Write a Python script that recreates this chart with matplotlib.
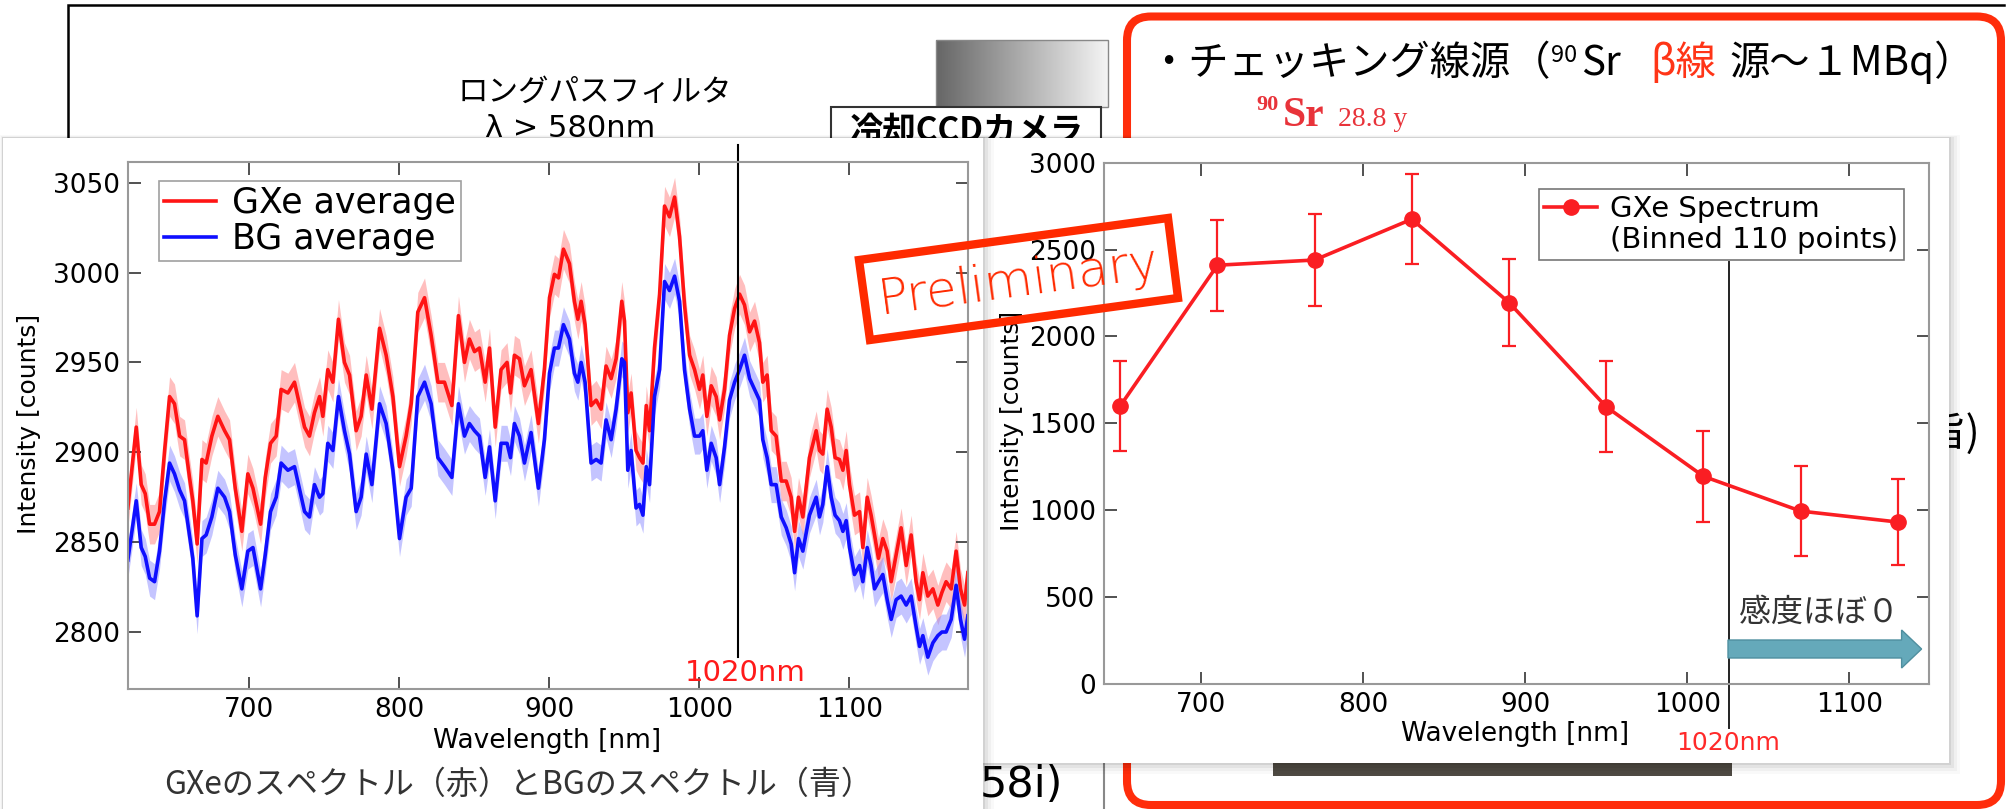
import matplotlib
matplotlib.use('Agg')
import matplotlib.pyplot as plt
import numpy as np
from matplotlib.patches import Rectangle, FancyBboxPatch, Polygon, FancyArrow
from matplotlib.lines import Line2D
from matplotlib.colors import LinearSegmentedColormap

# ---------------- data: left chart (averaged spectra) ----------------
wavelength = [
    618.9, 624.5, 627.8, 630.5, 633.4, 636.7, 640.0, 643.4, 646.7, 650.0, 653.4, 656.7, 660.0, 662.2, 665.1, 668.3,
    671.1, 674.9, 678.9, 683.4, 686.7, 690.5, 694.9, 698.9, 702.3, 707.4, 710.5, 714.0, 717.8, 721.1, 725.6, 730.0,
    736.7, 740.0, 743.3, 746.7, 748.9, 752.2, 755.6, 759.3, 763.3, 766.7, 771.1, 774.4, 777.8, 781.6, 786.7, 791.1,
    795.6, 800.0, 804.4, 807.8, 812.2, 816.7, 821.1, 825.6, 830.0, 834.9, 839.3, 843.3,
    846.6, 850.0, 853.3, 857.1, 860.0, 863.8, 867.7, 871.7, 874.0, 876.6, 880.0, 883.3, 887.7, 892.6, 896.6, 900.0,
    903.3, 906.0, 909.3, 913.3, 916.6, 918.9, 921.1, 923.7, 927.7, 931.1, 934.4, 937.7, 941.1, 944.4, 948.2, 950.0,
    952.2, 954.4, 957.7,
    960.0, 962.3, 964.5, 966.7, 970.0, 973.4, 976.7, 980.0, 983.4, 986.7, 990.0, 993.4, 996.7, 1000.0, 1002.2, 1004.9,
    1007.8, 1011.1, 1013.4, 1016.7, 1020.0, 1023.4, 1026.7, 1030.0, 1033.4, 1036.7, 1040.0, 1042.2, 1045.1, 1047.8,
    1051.1, 1054.5, 1057.8, 1061.1, 1063.4, 1066.0, 1068.9,
    1073.3, 1077.8, 1080.0, 1082.2, 1085.1, 1087.8, 1090.4, 1093.3, 1095.6, 1097.8, 1100.0, 1103.3, 1106.7, 1108.9,
    1111.8, 1114.4, 1116.7, 1119.3, 1122.2, 1125.1, 1127.8, 1131.1, 1134.4, 1137.8, 1141.1, 1144.4, 1146.7, 1148.9,
    1152.2, 1155.6, 1158.9, 1161.6, 1164.4, 1167.8, 1171.1, 1174.0, 1176.7, 1178.9]

gxe_average = [
    2869, 2914, 2882, 2877, 2860, 2860, 2867, 2901, 2931, 2927, 2909, 2907, 2886, 2873, 2849, 2896,
    2894, 2909, 2920, 2912, 2907, 2880, 2856, 2888, 2880, 2860, 2886, 2905, 2909, 2935, 2933, 2939,
    2914, 2909, 2922, 2931, 2920, 2946, 2939, 2974, 2950, 2943, 2912, 2920, 2943, 2924, 2969, 2954,
    2931, 2892, 2909, 2927, 2978, 2986, 2965, 2939, 2939, 2926, 2976, 2950,
    2963, 2956, 2958, 2939, 2958, 2914, 2946, 2950, 2933, 2954, 2952, 2937, 2946, 2916, 2946, 2986,
    2999, 2997, 3013, 3005, 2984, 2974, 2984, 2971, 2926, 2929, 2924, 2948, 2941, 2952, 2984, 2973,
    2922, 2933, 2901,
    2897, 2894, 2926, 2912, 2958, 2988, 3037, 3031, 3042, 3020, 2982, 2954, 2946, 2935, 2943, 2920,
    2937, 2931, 2918, 2935, 2965, 2980, 2988, 2982, 2967, 2973, 2961, 2939, 2943, 2912,
    2909, 2884, 2884, 2875, 2856, 2875, 2864,
    2897, 2912, 2901, 2899, 2924, 2914, 2897, 2896, 2890, 2901, 2882, 2865, 2867, 2847,
    2875, 2865, 2854, 2841, 2852, 2845, 2828, 2843, 2858, 2837, 2854, 2828, 2818, 2833,
    2820, 2824, 2815, 2822, 2828, 2824, 2845, 2824, 2815, 2833]

bg_average = [
    2840, 2873, 2847, 2842, 2830, 2828, 2845, 2873, 2894, 2888, 2879, 2873, 2854, 2841, 2809, 2852,
    2854, 2864, 2880, 2875, 2867, 2843, 2824, 2845, 2847, 2824, 2843, 2867, 2875, 2894, 2890, 2892,
    2867, 2864, 2882, 2875, 2877, 2905, 2901, 2931, 2912, 2899, 2867, 2875, 2899, 2882, 2927, 2916,
    2890, 2852, 2875, 2880, 2931, 2939, 2927, 2897, 2892, 2886, 2927, 2909,
    2916, 2912, 2909, 2886, 2903, 2873, 2905, 2905, 2897, 2916, 2909, 2894, 2911, 2880, 2907, 2944,
    2958, 2958, 2971, 2963, 2944, 2939, 2950, 2939, 2894, 2896, 2894, 2918, 2907, 2924, 2952, 2950,
    2890, 2901, 2869,
    2871, 2865, 2892, 2882, 2931, 2946, 2995, 2990, 2998, 2984, 2946, 2924, 2909, 2909, 2912, 2890,
    2905, 2897, 2882, 2903, 2929, 2939, 2946, 2954, 2941, 2935, 2929, 2907, 2897, 2882,
    2882, 2864, 2858, 2849, 2833, 2852, 2845,
    2865, 2875, 2864, 2871, 2892, 2875, 2865, 2862, 2856, 2862, 2847, 2832, 2837, 2828,
    2847, 2837, 2824, 2828, 2832, 2818, 2807, 2818, 2820, 2815, 2820, 2803, 2792, 2798,
    2786, 2794, 2798, 2800, 2800, 2807, 2826, 2807, 2796, 2809]

gxe_band = 11      # half width of shaded band (counts)
bg_band = 10

left_xticks = [700, 800, 900, 1000, 1100]
left_yticks = [2800, 2850, 2900, 2950, 3000, 3050]

# ---------------- data: right chart (binned spectrum) ----------------
bin_wavelength = [650, 710, 770, 830, 890, 950, 1010, 1070, 1130]
bin_intensity = [1600, 2410, 2440, 2675, 2195, 1595, 1195, 995, 932]
bin_error = [260, 262, 262, 260, 252, 262, 262, 258, 245]

right_xticks = [700, 800, 900, 1000, 1100]
right_yticks = [0, 500, 1000, 1500, 2000, 2500, 3000]

cut_line_nm = 1026   # position of the drawn "1020nm" marker line

# ---------------- figure ----------------
W, H = 2007, 809
fig = plt.figure(figsize=(W / 100, H / 100), dpi=100)
fig.patch.set_facecolor('white')
JP = ['Noto Sans CJK JP', 'DejaVu Sans']
RED = '#ff2d0b'

bg = fig.add_axes([0, 0, 1, 1], zorder=0)
bg.axis('off')


def shadow(ax, x, y, w, h, z):
    for k, a in [(14, 0.025), (10, 0.035), (6, 0.05), (3, 0.07)]:
        ax.add_patch(Rectangle((x - k * 0.25, y - k * 0.25), w + k, h + k,
                               fc='black', alpha=a, lw=0, zorder=z))


# slide frame
bg.plot([68, 68, 2004], [809, 5, 5], color='black', lw=1.8, zorder=1, solid_joinstyle='miter')
# filter text
bg.text(595, 92, 'ロングパスフィルタ', fontsize=22, family=JP, ha='center', va='center', zorder=1)
bg.text(570, 128, 'λ > 580nm', fontsize=22, family=['DejaVu Sans'], ha='center', va='center', zorder=1)
# camera
cmap = LinearSegmentedColormap.from_list('g', ['#666666', '#f4f4f4'])
bg.imshow(np.linspace(0, 1, 200).reshape(1, -1), cmap=cmap, extent=(936, 1108, 107, 40),
          aspect='auto', zorder=1, interpolation='bilinear')
bg.add_patch(Rectangle((936, 40), 172, 67, fill=False, ec='#888888', lw=1, zorder=1.1))
bg.add_patch(Rectangle((831, 107), 270, 45, fc='white', ec='#333333', lw=1.5, zorder=1.2))
bg.text(966, 131, '冷却CCDカメラ', fontsize=24, family=JP, weight='bold', ha='center', va='center', zorder=1.3)

# red rounded box
bg.add_patch(FancyBboxPatch((1127, 16.5), 874, 788.5, boxstyle='round,pad=0,rounding_size=24',
                            fill=False, ec=RED, lw=5.8, zorder=2))
# title line
bg.text(1148, 75, '・チェッキング線源（', fontsize=29, family=JP, ha='left', va='baseline', zorder=2)
bg.text(1551, 62, '90', fontsize=17, family=JP, ha='left', va='baseline', zorder=2)
bg.text(1581, 75, 'Sr', fontsize=29, family=JP, ha='left', va='baseline', zorder=2)
bg.text(1650, 75, 'β線', fontsize=29, family=JP, color='#ff3517', ha='left', va='baseline', zorder=2)
bg.text(1729, 75, '源〜１MBq）', fontsize=29, family=JP, ha='left', va='baseline', zorder=2)
# 90Sr half-life
SRC = '#e8333a'
bg.text(1256, 110, '90', fontsize=16, family='Liberation Serif', weight='bold', color=SRC,
        ha='left', va='baseline', zorder=2)
bg.text(1283, 126, 'Sr', fontsize=30, family='Liberation Serif', weight='bold', color=SRC,
        ha='left', va='baseline', zorder=2)
bg.text(1338, 126, '28.8 y', fontsize=20, family='Liberation Serif', color=SRC,
        ha='left', va='baseline', zorder=2)
# partially hidden slide text
bg.text(1924, 446, '旨)', fontsize=30, family=JP, ha='left', va='baseline', zorder=2)
bg.add_patch(Rectangle((1273, 700), 459, 76, fc='#4e4a43', lw=0, zorder=2))
bg.text(980, 797, '58i)', fontsize=31, family='DejaVu Sans', ha='left', va='baseline', zorder=2)
bg.plot([1104, 1104], [763, 809], color='#888888', lw=1.5, zorder=2)

# right panel
shadow(bg, 975, 138, 974, 625, 4)
bg.add_patch(Rectangle((975, 138), 974, 625, fc='white', lw=0, zorder=5))
# left panel
shadow(bg, 3, 138, 980, 700, 6)
bg.add_patch(Rectangle((3, 138), 980, 700, fc='white', lw=0, zorder=7))

bg.set_xlim(0, W)
bg.set_ylim(H, 0)

# ---------------- left chart ----------------
axL = fig.add_axes([128 / W, 1 - 689 / H, 840 / W, 527 / H], zorder=1)
axL.set_facecolor('none')
wl = np.array(wavelength)
g = np.array(gxe_average)
b = np.array(bg_average)
axL.fill_between(wl, g - gxe_band, g + gxe_band, color='#ff8a8a', alpha=0.55, lw=0)
axL.fill_between(wl, b - bg_band, b + bg_band, color='#8a8aff', alpha=0.5, lw=0)
axL.plot(wl, g, color='#ff1414', lw=2.6, label='GXe average')
axL.plot(wl, b, color='#0f0fff', lw=2.6, label='BG average')
axL.set_xlim(619, 1179)
axL.set_ylim(2768.3, 3061.5)
axL.set_xticks(left_xticks)
axL.set_yticks(left_yticks)
axL.axvline(cut_line_nm, ymin=(689 - 657) / 527, ymax=(689 - 145) / 527, color='black', lw=1.5, clip_on=False)
leg = axL.legend(loc='upper left', bbox_to_anchor=(0.037, 0.964), borderaxespad=0, fontsize=25,
                 frameon=True, fancybox=False, edgecolor='#888888', handlelength=1.5, handletextpad=0.45,
                 borderpad=0.15, labelspacing=0.05)
leg.get_frame().set_linewidth(1.2)
axL.set_xlabel('Wavelength [nm]', fontsize=19)
axL.set_ylabel('Intensity [counts]', fontsize=18)
axL.xaxis.set_label_coords((547 - 128) / 840, (689 - 741) / 527)
axL.xaxis.label.set_va('center')
axL.yaxis.set_label_coords((29 - 128) / 840, (689 - 424) / 527)
axL.yaxis.label.set_va('center')

# ---------------- right chart ----------------
axR = fig.add_axes([1104 / W, 1 - 684 / H, 824.7 / W, 521.3 / H], zorder=1)
axR.set_facecolor('none')
RC = '#fa1e23'
axR.errorbar(bin_wavelength, bin_intensity, yerr=bin_error, fmt='none', ecolor=RC, elinewidth=1.6,
             capsize=5, capthick=1.6)
axR.plot(bin_wavelength, bin_intensity, color=RC, lw=2.6, marker='o', ms=11)
axR.set_xlim(640, 1149)
axR.set_ylim(0, 3000)
axR.set_xticks(right_xticks)
axR.set_yticks(right_yticks)
axR.axvline(cut_line_nm, ymin=(684 - 728) / 521.3, ymax=0.81, color='#222222', lw=1.4, clip_on=False, zorder=1)
handles = [Line2D([], [], color=RC, lw=2.6, marker='o', ms=11), Line2D([], [], color='none')]
legR = axR.legend(handles, ['GXe Spectrum', '(Binned 110 points)'], loc='upper right',
                  bbox_to_anchor=(0.970, 0.9495), borderaxespad=0, fontsize=21, frameon=True,
                  fancybox=False, edgecolor='#555555', handlelength=1.8, handletextpad=0.45,
                  borderpad=0.2, labelspacing=0.1)
legR.get_frame().set_linewidth(1.2)
legR.set_zorder(5)
axR.set_xlabel('Wavelength [nm]', fontsize=19)
axR.set_ylabel('Intensity [counts]', fontsize=18)
axR.xaxis.set_label_coords((1515 - 1104) / 824.7, (684 - 734) / 521.3)
axR.xaxis.label.set_va('center')
axR.yaxis.set_label_coords((1012 - 1104) / 824.7, (684 - 421) / 521.3)
axR.yaxis.label.set_va('center')

for ax in (axL, axR):
    ax.tick_params(direction='in', length=9, width=1.2, color='#333333', labelsize=19,
                   top=True, right=True, pad=6)
    for s in ax.spines.values():
        s.set_color('#999999')
        s.set_linewidth(1.5)

# ---------------- overlay ----------------
ov = fig.add_axes([0, 0, 1, 1], zorder=3)
ov.axis('off')
ov.set_xlim(0, W)
ov.set_ylim(H, 0)
ov.text(745, 673, '1020nm', fontsize=21, color='#ff1a1a', ha='center', va='center')
ov.text(1728, 743, '1020nm', fontsize=18, color='#ff2a2a', ha='center', va='center')
ov.add_patch(FancyArrow(1728, 649, 193.6, 0, width=18, head_width=38, head_length=20,
                        length_includes_head=True, fc='#65a9ba', ec='#4f8f9f', lw=1))
ov.text(1819, 613, '感度ほぼ０', fontsize=23, family=JP, color='#333333', ha='center', va='center')
ov.text(519, 785, 'GXeのスペクトル（赤）とBGのスペクトル（青）', fontsize=23, family=JP,
        color='#333333', ha='center', va='center')
ov.add_patch(Polygon([(859, 260), (1168, 218), (1178, 298), (870, 340)], closed=True, fill=False,
                     ec='#ff2a00', lw=6, joinstyle='miter'))
ov.text(1019, 281, 'Preliminary', fontsize=36, color='#ff2a00', rotation=7.7, rotation_mode='anchor',
        ha='center', va='center', weight='light')

fig.savefig('out.png', dpi=100, facecolor='white')
